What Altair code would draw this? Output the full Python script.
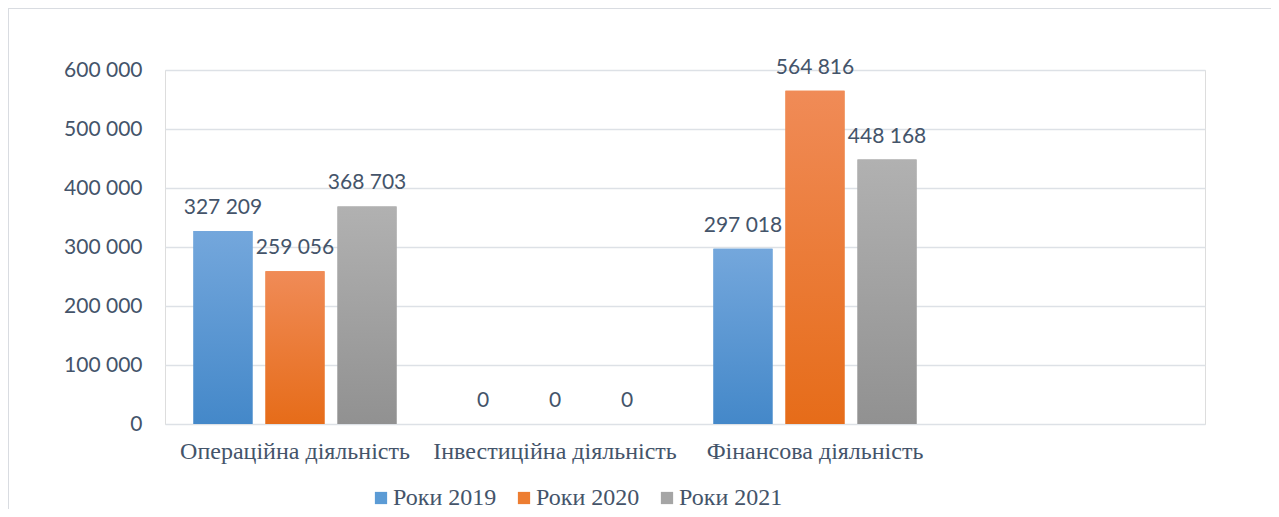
import altair as alt
import pandas as pd

categories = ["Операційна діяльність", "Інвестиційна діяльність", "Фінансова діяльність"]
x_domain = categories + [" "]
series = ["Роки 2019", "Роки 2020", "Роки 2021"]
values_2019 = [327209, 0, 297018]
values_2020 = [259056, 0, 564816]
values_2021 = [368703, 0, 448168]
y_ticks = [0, 100000, 200000, 300000, 400000, 500000, 600000]

solid_colors = ["#5B9BD5", "#ED7D31", "#A5A5A5"]
gradients = [
    ("#74A7DC", "#4488C9"),
    ("#F08B57", "#E66C19"),
    ("#B1B1B1", "#919191"),
]

rows = []
for s, vals in zip(series, [values_2019, values_2020, values_2021]):
    for c, v in zip(categories, vals):
        rows.append({"cat": c, "series": s, "value": v,
                     "label": f"{v:,}".replace(",", " ")})
df = pd.DataFrame(rows)

W, H = 1040, 354
TXT = "#44546A"
SERIF = "Liberation Serif, Times New Roman, DejaVu Serif, serif"

x_enc = alt.X("cat:N", sort=x_domain,
              scale=alt.Scale(domain=x_domain, paddingInner=0, paddingOuter=0),
              axis=alt.Axis(title=None, labelAngle=0, domain=False, ticks=False,
                            labelFont=SERIF, labelFontSize=24, labelLimit=0,
                            labelColor=TXT, labelPadding=15))
xo_enc = alt.XOffset("series:N",
                     scale=alt.Scale(domain=series, paddingInner=0.18, paddingOuter=0.395))
y_enc = alt.Y("value:Q",
              scale=alt.Scale(domain=[0, 600000]),
              axis=alt.Axis(title=None, values=y_ticks, domain=False, ticks=False,
                            labelFont="Lato", labelFontSize=21, labelColor=TXT,
                            labelPadding=23, gridColor="#DDE1E6", gridWidth=1.5,
                            labelExpr="replace(format(datum.value, ',d'), ',', ' ')"))

base = alt.Chart(df)

legend_bars = base.mark_bar().encode(
    x=x_enc, xOffset=xo_enc, y=y_enc,
    color=alt.Color("series:N",
                    scale=alt.Scale(domain=series, range=solid_colors),
                    legend=alt.Legend(title=None, orient="none", direction="horizontal",
                                      legendX=204, legendY=416,
                                      symbolType="square", symbolSize=150,
                                      symbolStrokeWidth=0,
                                      labelFont=SERIF, labelFontSize=24,
                                      labelColor=TXT, columnPadding=15,
                                      labelOffset=0, labelLimit=0)),
)

grad_layers = []
for s, (top, bot) in zip(series, gradients):
    grad_layers.append(
        base.transform_filter(alt.datum.series == s).mark_bar(
            color=alt.Gradient(gradient="linear", x1=0, x2=0, y1=0, y2=1,
                               stops=[alt.GradientStop(color=top, offset=0),
                                      alt.GradientStop(color=bot, offset=1)])
        ).encode(x=x_enc, xOffset=xo_enc, y=y_enc)
    )

labels = base.mark_text(baseline="bottom", dy=-13, font="Lato", fontSize=21,
                        color=TXT).encode(
    x=x_enc, xOffset=xo_enc, y=y_enc, text="label:N")

frame = base.mark_rect(fill=None, stroke="#D9DCE1", strokeWidth=1).encode(
    x=alt.value(-156.5), x2=alt.value(W + 200),
    y=alt.value(-61.5), y2=alt.value(H + 200),
)

chart = alt.layer(frame, legend_bars, *grad_layers, labels).properties(
    width=W, height=H,
    autosize=alt.AutoSizeParams(type="none"),
    padding={"left": 157, "top": 62, "right": 66, "bottom": 85},
).configure_view(stroke=None).configure(background="white")

chart.save("out.html", embed_options={"renderer": "svg", "actions": False})
